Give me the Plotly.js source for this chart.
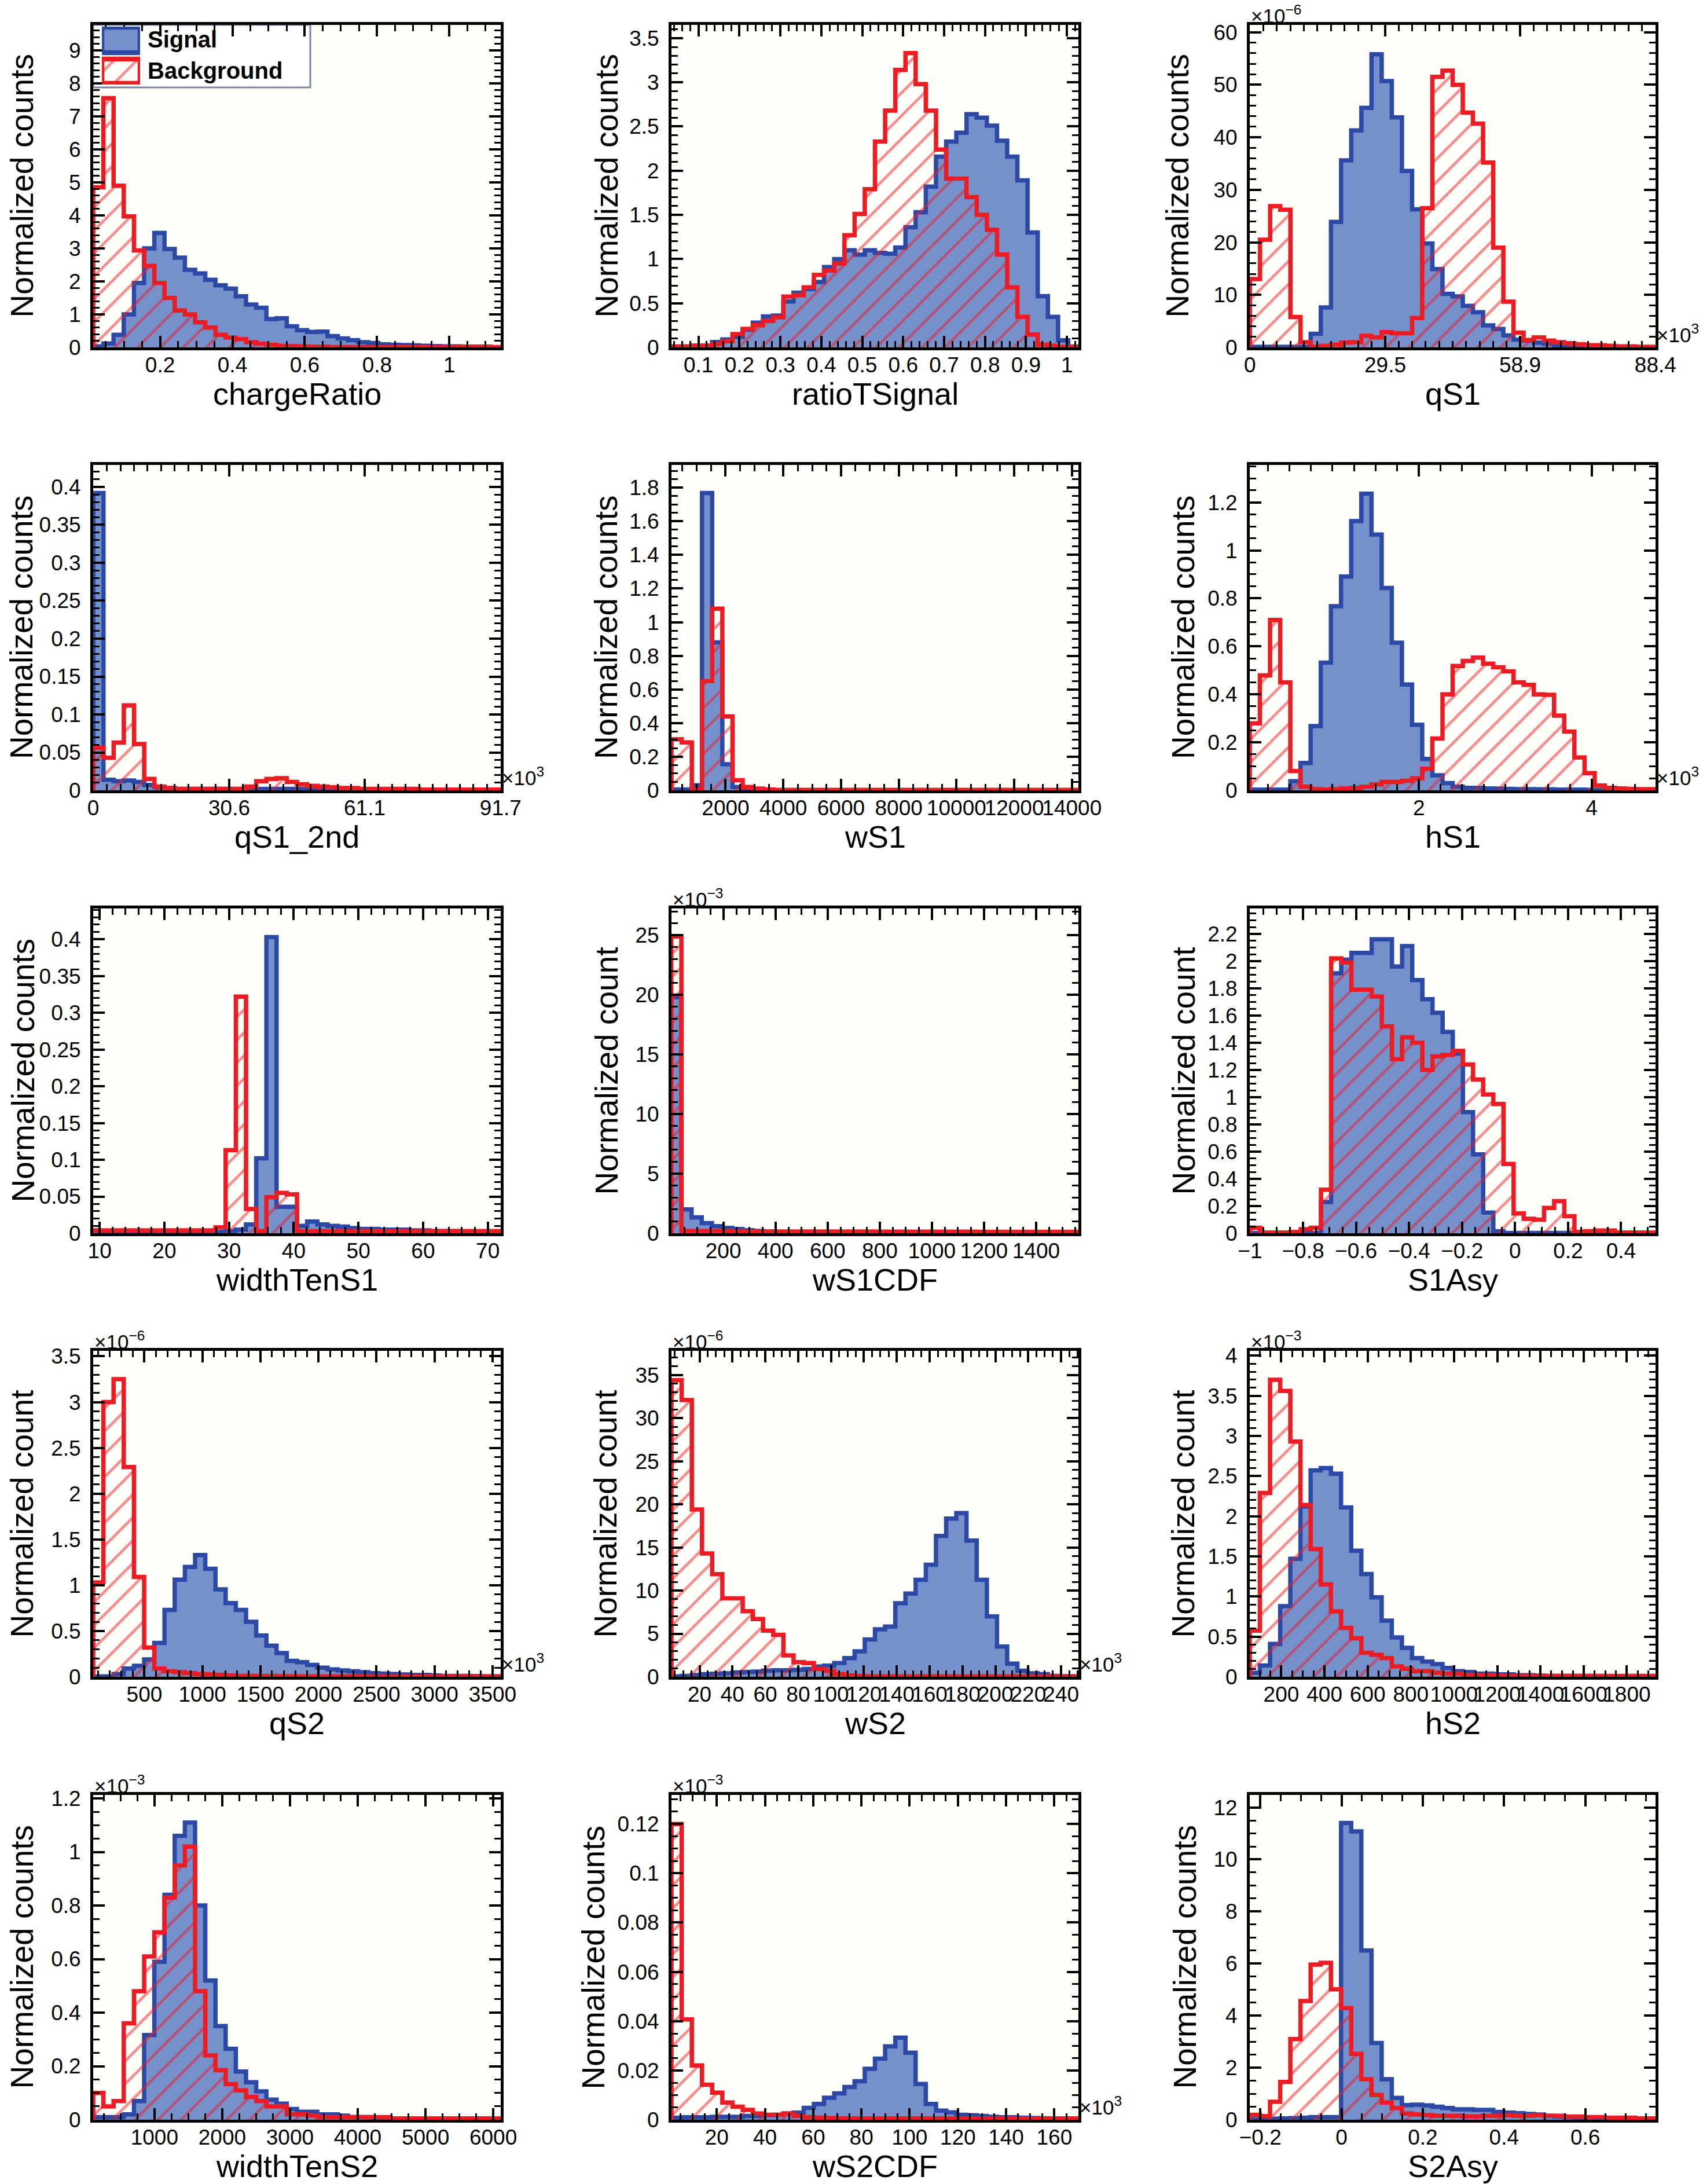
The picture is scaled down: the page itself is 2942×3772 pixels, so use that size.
<!DOCTYPE html>
<html><head><meta charset="utf-8">
<script src="https://cdn.plot.ly/plotly-3.0.1.min.js"></script>
<style>html,body{margin:0;padding:0;background:#fff}#chart{width:2942px;height:3772px}</style>
</head><body><div id="chart"></div>
<script>
// ---------------- DATA (bin range [lo, hi], 40 equal bins) ----------------
const chargeRatioBins = [0.015, 1.142];
const chargeRatioSignal = [0.03,0.12,0.38,1.0,1.95,3.0,3.47,2.98,2.72,2.35, 2.24,2.05,1.88,1.78,1.55,1.3,1.2,0.86,0.88,0.64, 0.52,0.47,0.48,0.34,0.27,0.22,0.16,0.13,0.09,0.08, 0.07,0.06,0.05,0.04,0.03,0.03,0.02,0.02,0.02,0.01];
const chargeRatioBackground = [4.85,7.55,4.9,3.97,2.94,2.47,1.95,1.5,1.12,1.0, 0.76,0.6,0.38,0.3,0.25,0.16,0.11,0.08,0.05,0.04, 0.03,0.02,0.02,0.01,0.01,0.01,0.01,0.01,0.01,0.005, 0.005,0.005,0.005,0.005,0.005,0.005,0.005,0.005,0.005,0.005];

const ratioTSignalBins = [0.034, 1.028];
const ratioTSignalSignal = [0.01,0.01,0.02,0.02,0.06,0.09,0.12,0.2,0.28,0.35, 0.36,0.52,0.62,0.66,0.74,0.91,1.0,1.1,1.05,1.1, 1.07,1.06,1.13,1.36,1.53,1.82,2.16,2.33,2.43,2.64, 2.6,2.51,2.34,2.16,1.89,1.3,0.58,0.345,0.08,0.01];
const ratioTSignalBackground = [0.01,0.01,0.02,0.02,0.04,0.07,0.15,0.21,0.25,0.3, 0.34,0.575,0.59,0.68,0.82,0.87,0.95,1.27,1.51,1.79, 2.33,2.68,3.14,3.33,2.98,2.68,2.24,1.91,1.91,1.7, 1.5,1.33,1.05,0.68,0.345,0.145,0.03,0.02,0.005,0.005];

const qS1Bins = [0, 88.4];
const qS1Ticks = [0, 29.5, 58.9, 88.4];
const qS1Signal = [0.1,0.1,0.1,0.1,0.1,0.1,2.6,7.6,23.9,35.6, 41.3,45.6,55.8,50.7,43.8,33.6,26.3,19.8,14.9,10.2, 9.7,7.9,6.7,4.2,3.5,2.3,1.5,1.3,0.9,0.7, 0.4,0.3,0.2,0.1,0.1,0.1,0.05,0.05,0.05,0.05];
const qS1Background = [13.0,20.5,26.9,26.2,5.8,1.0,0.1,0.3,0.5,0.9, 1.0,2.2,1.9,2.9,2.7,2.7,5.6,26.5,51.5,52.7, 50.0,44.7,42.6,35.2,19.0,8.7,2.8,1.4,1.9,1.3, 1.0,0.8,0.6,0.4,0.4,0.3,0.2,0.2,0.1,0.1];

const qS1_2ndBins = [0, 91.7];
const qS1_2ndTicks = [0, 30.6, 61.1, 91.7];
const qS1_2ndSignal = [0.392,0.014,0.012,0.013,0.011,0.007,0.004,0.003,0.002,0.002, 0.002,0.002,0.002,0.002,0.002,0.002,0.002,0.002,0.002,0.002, 0.002,0.002,0.001,0.001,0.001,0.001,0.001,0.001,0.001,0.001, 0.001,0.001,0.001,0.001,0.001,0.001,0.001,0.001,0.001,0.001];
const qS1_2ndBackground = [0.056,0.043,0.063,0.112,0.061,0.015,0.005,0.003,0.002,0.002, 0.002,0.002,0.002,0.002,0.002,0.005,0.012,0.015,0.016,0.011, 0.008,0.006,0.005,0.004,0.003,0.003,0.002,0.002,0.002,0.002, 0.002,0.002,0.001,0.001,0.001,0.001,0.001,0.001,0.001,0.001];

const wS1Bins = [125, 14225];
const wS1Signal = [0.005,0.005,0.03,1.768,0.88,0.155,0.02,0.005,0.003,0.002, 0.001,0.001,0.001,0.001,0.001,0.001,0.001,0.001,0.001,0.001, 0.001,0.001,0.001,0.001,0.001,0.001,0.001,0.001,0.001,0.001, 0.001,0.001,0.001,0.001,0.001,0.001,0.001,0.001,0.001,0.001];
const wS1Background = [0.304,0.285,0.005,0.65,1.08,0.44,0.06,0.02,0.01,0.005, 0.003,0.003,0.003,0.003,0.003,0.003,0.003,0.003,0.003,0.003, 0.003,0.003,0.003,0.003,0.003,0.003,0.003,0.003,0.003,0.003, 0.003,0.003,0.003,0.003,0.003,0.003,0.003,0.003,0.003,0.003];

const hS1Bins = [0.042, 4.74];
const hS1Signal = [0.003,0.003,0.003,0.003,0.038,0.114,0.268,0.532,0.767,0.891, 1.122,1.236,1.066,0.843,0.615,0.441,0.273,0.131,0.063,0.03, 0.015,0.01,0.01,0.008,0.007,0.006,0.005,0.005,0.004,0.004, 0.003,0.003,0.003,0.002,0.002,0.002,0.002,0.002,0.002,0.002];
const hS1Background = [0.279,0.479,0.71,0.45,0.08,0.015,0.005,0.003,0.005,0.008, 0.01,0.015,0.025,0.035,0.035,0.04,0.05,0.09,0.216,0.4, 0.518,0.539,0.553,0.528,0.513,0.496,0.45,0.44,0.4,0.398, 0.311,0.245,0.137,0.072,0.02,0.01,0.008,0.006,0.005,0.005];

const widthTenS1Bins = [9, 72];
const widthTenS1Signal = [0.002,0.002,0.002,0.002,0.002,0.002,0.002,0.002,0.002,0.002, 0.002,0.002,0.002,0.003,0.005,0.012,0.102,0.403,0.036,0.036, 0.01,0.016,0.012,0.01,0.009,0.007,0.006,0.006,0.005,0.005, 0.005,0.004,0.004,0.003,0.003,0.003,0.002,0.002,0.002,0.002];
const widthTenS1Background = [0.004,0.004,0.004,0.004,0.004,0.004,0.004,0.004,0.004,0.004, 0.004,0.004,0.008,0.113,0.322,0.033,0.003,0.049,0.055,0.053, 0.003,0.003,0.003,0.003,0.003,0.003,0.003,0.003,0.003,0.003, 0.003,0.003,0.003,0.003,0.003,0.003,0.003,0.003,0.003,0.003];

const wS1CDFBins = [0, 1562];
const wS1CDFSignal = [19.8,2.0,1.33,0.85,0.6,0.45,0.35,0.25,0.2,0.15, 0.12,0.1,0.08,0.07,0.06,0.05,0.05,0.04,0.04,0.03, 0.03,0.03,0.02,0.02,0.02,0.02,0.02,0.01,0.01,0.01, 0.01,0.01,0.01,0.01,0.01,0.01,0.01,0.01,0.01,0.01];
const wS1CDFBackground = [24.9,0.2,0.2,0.2,0.2,0.18,0.16,0.15,0.15,0.15, 0.15,0.15,0.14,0.14,0.14,0.14,0.14,0.14,0.14,0.14, 0.13,0.13,0.13,0.13,0.13,0.13,0.13,0.13,0.13,0.13, 0.12,0.12,0.12,0.12,0.12,0.12,0.12,0.12,0.12,0.12];

const S1AsyBins = [-1, 0.53];
const S1AsySignal = [0.002,0.002,0.002,0.002,0.002,0.002,0.002,0.23,1.91,2.01, 2.06,2.06,2.16,2.16,1.96,2.11,1.86,1.72,1.62,1.48, 1.32,0.89,0.58,0.152,0.015,0.002,0.002,0.002,0.002,0.002, 0.002,0.002,0.002,0.002,0.002,0.002,0.002,0.002,0.002,0.002];
const S1AsyBackground = [0.04,0.005,0.005,0.005,0.01,0.03,0.04,0.32,2.02,1.99, 1.79,1.79,1.74,1.52,1.28,1.44,1.40,1.2,1.3,1.31, 1.34,1.24,1.13,1.02,0.95,0.51,0.146,0.106,0.1,0.186, 0.236,0.126,0.01,0.015,0.02,0.02,0.005,0.005,0.005,0.005];

const qS2Bins = [59, 3570];
const qS2Signal = [0.005,0.005,0.03,0.09,0.12,0.19,0.37,0.73,1.06,1.2, 1.33,1.18,0.955,0.805,0.73,0.6,0.45,0.34,0.26,0.174, 0.16,0.13,0.1,0.08,0.07,0.06,0.05,0.04,0.035,0.03, 0.025,0.02,0.02,0.015,0.01,0.01,0.01,0.008,0.005,0.005];
const qS2Background = [1.03,3.0,3.25,2.29,1.09,0.32,0.09,0.06,0.05,0.04, 0.03,0.025,0.02,0.015,0.01,0.01,0.008,0.008,0.006,0.006, 0.005,0.005,0.005,0.005,0.005,0.005,0.005,0.005,0.005,0.005, 0.005,0.005,0.005,0.005,0.005,0.005,0.005,0.005,0.005,0.005];

const wS2Bins = [2.9, 250.5];
const wS2Signal = [0.05,0.1,0.2,0.3,0.35,0.4,0.5,0.55,0.6,0.7, 0.75,0.75,0.8,0.9,1.2,1.3,1.6,2.17,2.96,4.33, 5.5,5.83,8.53,9.65,11.24,13.0,16.34,18.34,18.98,15.8, 11.24,7.0,3.5,1.53,0.7,0.4,0.3,0.1,0.05,0.05];
const wS2Background = [34.4,32.1,19.4,14.3,11.9,9.1,9.1,7.6,6.7,5.35, 4.87,2.48,1.69,1.6,0.9,0.7,0.3,0.15,0.1,0.05, 0.05,0.05,0.05,0.05,0.05,0.05,0.05,0.05,0.05,0.05, 0.05,0.05,0.05,0.05,0.05,0.05,0.05,0.05,0.05,0.05];

const hS2Bins = [54, 1933];
const hS2Signal = [0.05,0.14,0.41,0.88,1.47,2.12,2.57,2.6,2.53,2.11, 1.57,1.28,0.99,0.70,0.49,0.36,0.233,0.19,0.158,0.11, 0.07,0.06,0.04,0.04,0.03,0.03,0.02,0.02,0.015,0.01, 0.01,0.01,0.01,0.01,0.008,0.008,0.005,0.005,0.005,0.005];
const hS2Background = [0.575,2.29,3.7,3.56,2.93,2.14,1.59,1.15,0.815,0.61, 0.48,0.3,0.274,0.233,0.13,0.1,0.07,0.07,0.05,0.04, 0.04,0.02,0.02,0.02,0.015,0.01,0.01,0.01,0.01,0.01, 0.01,0.01,0.01,0.01,0.01,0.01,0.01,0.01,0.01,0.01];

const widthTenS2Bins = [96, 6110];
const widthTenS2Signal = [0.01,0.01,0.01,0.02,0.07,0.316,0.59,0.84,1.06,1.11, 0.8,0.52,0.35,0.265,0.18,0.14,0.106,0.075,0.06,0.04, 0.03,0.03,0.02,0.02,0.015,0.01,0.01,0.008,0.006,0.005, 0.005,0.005,0.004,0.004,0.003,0.003,0.003,0.003,0.003,0.003];
const widthTenS2Background = [0.1,0.05,0.07,0.36,0.48,0.61,0.70,0.83,0.95,1.02, 0.48,0.24,0.185,0.133,0.11,0.085,0.07,0.05,0.05,0.02, 0.02,0.015,0.01,0.01,0.01,0.01,0.01,0.01,0.01,0.005, 0.005,0.005,0.005,0.005,0.005,0.005,0.005,0.005,0.005,0.005];

const wS2CDFBins = [1.2, 170];
const wS2CDFSignal = [0.0008,0.001,0.001,0.001,0.0012,0.0012,0.0012,0.0015,0.0015,0.0018, 0.002,0.0025,0.0029,0.0048,0.0064,0.0089,0.0107,0.0133,0.0156,0.0207, 0.0248,0.0298,0.0333,0.0272,0.0145,0.0064,0.0037,0.003,0.002,0.0018, 0.0015,0.0012,0.001,0.001,0.0008,0.0007,0.0006,0.0005,0.0005,0.0005];
const wS2CDFBackground = [0.12,0.0407,0.022,0.0142,0.011,0.007,0.0053,0.004,0.0025,0.002, 0.002,0.0025,0.0015,0.001,0.0008,0.0007,0.0006,0.0005,0.0005,0.0005, 0.0005,0.0005,0.0005,0.0005,0.0005,0.0005,0.0005,0.0005,0.0005,0.0005, 0.0005,0.0005,0.0005,0.0005,0.0005,0.0005,0.0005,0.0005,0.0005,0.0005];

const S2AsyBins = [-0.226, 0.773];
const S2AsySignal = [0.02,0.03,0.04,0.05,0.06,0.08,0.1,0.1,0.1,11.4, 11.08,6.5,2.95,1.56,0.84,0.56,0.58,0.55,0.5,0.45, 0.4,0.4,0.38,0.38,0.3,0.27,0.25,0.22,0.2,0.15, 0.12,0.1,0.08,0.05,0.03,0.03,0.03,0.03,0.03,0.03];
const S2AsyBackground = [0.19,0.14,0.69,1.45,3.1,4.56,5.96,6.03,5.01,4.29, 2.53,1.56,0.95,0.66,0.45,0.24,0.2,0.18,0.15,0.15, 0.15,0.13,0.13,0.15,0.15,0.17,0.15,0.15,0.17,0.15, 0.15,0.12,0.12,0.1,0.1,0.08,0.08,0.08,0.05,0.05];

const xTitles = ['chargeRatio','ratioTSignal','qS1','qS1_2nd','wS1','hS1','widthTenS1','wS1CDF','S1Asy','qS2','wS2','hS2','widthTenS2','wS2CDF','S2Asy'];
const yTitles = ['Normalized counts','Normalized counts','Normalized counts','Normalized counts','Normalized counts','Normalized counts','Normalized counts','Normalized count','Normalized count','Normalized count','Normalized count','Normalized count','Normalized counts','Normalized counts','Normalized counts'];
const yExponents = ['', '', '\u22126', '', '', '', '', '\u22123', '', '\u22126', '\u22126', '\u22123', '\u22123', '\u22123', ''];
const xExponents = ['', '', '3', '3', '', '3', '', '', '', '3', '3', '', '', '3', ''];
const legendNames = ['Signal', 'Background'];

const signals = [chargeRatioSignal, ratioTSignalSignal, qS1Signal, qS1_2ndSignal, wS1Signal, hS1Signal, widthTenS1Signal, wS1CDFSignal, S1AsySignal, qS2Signal, wS2Signal, hS2Signal, widthTenS2Signal, wS2CDFSignal, S2AsySignal];
const backgrounds = [chargeRatioBackground, ratioTSignalBackground, qS1Background, qS1_2ndBackground, wS1Background, hS1Background, widthTenS1Background, wS1CDFBackground, S1AsyBackground, qS2Background, wS2Background, hS2Background, widthTenS2Background, wS2CDFBackground, S2AsyBackground];
const binRanges = [chargeRatioBins, ratioTSignalBins, qS1Bins, qS1_2ndBins, wS1Bins, hS1Bins, widthTenS1Bins, wS1CDFBins, S1AsyBins, qS2Bins, wS2Bins, hS2Bins, widthTenS2Bins, wS2CDFBins, S2AsyBins];

// ---------------- LAYOUT / STYLE ----------------
const W = 2942, H = 3772;
const FONT = 'Liberation Sans, Arial, Helvetica, sans-serif';
const BLUE_FILL = '#7690cc', BLUE_LINE = '#2c49a6', RED = '#ec1c24', FRAME_BG = '#fffffa';
const LINE_W = 7.5;
const TICK_FONT = 37, TITLE_FONT = 55;
const HATCH = {shape: '/', fgcolor: RED, bgcolor: 'rgba(0,0,0,0)', size: 28, solidity: 0.17, fillmode: 'overlay'};
const colPx = [[161, 865], [1160, 1863], [2159, 2860]];
const rowPx = [[43, 600], [803, 1365], [1569, 2130], [2333, 2896], [3100, 3661]];
const yTitleX = [37,1047,2033, 37,1047,2044, 39,1047,2044, 37,1045,2043, 37,1024,2046];
const X_TITLE_OFFSET = 80;
const axSpec = [
  {xr:[0.015,1.142], xd:0.2, xm:0.05, ymax:9.77, yd:1, ym:0.2},
  {xr:[0.034,1.028], xd:0.1, xm:0.02, ymax:3.65, yd:0.5, ym:0.1},
  {xr:[-0.02,88.42], xt:qS1Ticks, xm:88.4/30, ymax:61.4, yd:10, ym:2},
  {xr:[-0.02,91.72], xt:qS1_2ndTicks, xm:91.7/30, ymax:0.429, yd:0.05, ym:0.01},
  {xr:[125,14225], xd:2000, xm:500, xf:'d', ymax:1.935, yd:0.2, ym:0.05},
  {xr:[0.042,4.74], xd:2, xm:0.25, ymax:1.356, yd:0.2, ym:0.05},
  {xr:[9,72], xd:10, xm:2, ymax:0.442, yd:0.05, ym:0.01},
  {xr:[1,1562], xd:200, xm:50, xf:'d', ymax:27.25, yd:5, ym:1},
  {xr:[-1.001,0.53], xd:0.2, xm:0.05, ymax:2.387, yd:0.2, ym:0.05},
  {xr:[59,3570], xd:500, xm:100, xf:'d', ymax:3.56, yd:0.5, ym:0.1},
  {xr:[2.9,250.5], xd:20, xm:5, ymax:37.8, yd:5, ym:1},
  {xr:[54,1933], xd:200, xm:50, xf:'d', ymax:4.06, yd:0.5, ym:0.1},
  {xr:[96,6110], xd:1000, xm:250, xf:'d', ymax:1.213, yd:0.2, ym:0.05},
  {xr:[1.2,170], xd:20, xm:5, ymax:0.1318, yd:0.02, ym:0.005},
  {xr:[-0.226,0.773], xd:0.2, xm:0.05, ymax:12.48, yd:2, ym:0.5}
];

function binEdges(range, n) {
  const lo = range[0], hi = range[1], w = (hi - lo) / n;
  const e = [];
  for (let i = 0; i <= n; i++) e.push(lo + i * w);
  return e;
}
function stepXY(range, vals) {
  const n = vals.length, e = binEdges(range, n);
  const x = [e[0]], y = [0];
  for (let i = 0; i < n; i++) { x.push(e[i]); y.push(vals[i]); }
  x.push(e[n]); y.push(vals[n - 1]);
  x.push(e[n]); y.push(0);
  return {x, y};
}

const traces = [], annotations = [], shapes = [];
const layout = {
  width: W, height: H,
  margin: {l: 0, r: 0, t: 0, b: 0},
  paper_bgcolor: '#ffffff', plot_bgcolor: FRAME_BG,
  font: {family: FONT, color: '#000'},
  showlegend: false,
  annotations: annotations, shapes: shapes
};

for (let p = 0; p < 15; p++) {
  const s = axSpec[p];
  const r = Math.floor(p / 3), c = p % 3;
  const n = p === 0 ? '' : String(p + 1);
  const xa = 'x' + n, ya = 'y' + n;
  const cp = colPx[c], rp = rowPx[r];
  const common = {
    showline: true, linecolor: '#000', linewidth: 5, mirror: 'ticks',
    ticks: 'inside', ticklen: 20, tickwidth: 4, tickcolor: '#000',
    showgrid: false, zeroline: false, fixedrange: true,
    exponentformat: 'none',
    tickfont: {family: FONT, size: TICK_FONT, color: '#000'}, tickangle: 0
  };
  const xaxis = Object.assign({}, common, {
    domain: [cp[0] / W, cp[1] / W], anchor: ya, range: s.xr,
    ticklabelstandoff: -6,
    minor: {ticks: 'inside', ticklen: 11, tickwidth: 3, tickcolor: '#000', showgrid: false, tickmode: 'linear', tick0: 0, dtick: s.xm}
  });
  if (s.xt) { xaxis.tickmode = 'array'; xaxis.tickvals = s.xt; xaxis.ticktext = s.xt.map(String); }
  else { xaxis.tickmode = 'linear'; xaxis.tick0 = 0; xaxis.dtick = s.xd; }
  if (s.xf) xaxis.tickformat = s.xf;
  const yaxis = Object.assign({}, common, {
    domain: [1 - rp[1] / H, 1 - rp[0] / H], anchor: xa, range: [0, s.ymax],
    tickmode: 'linear', tick0: 0, dtick: s.yd, ticklabelstandoff: 9,
    minor: {ticks: 'inside', ticklen: 11, tickwidth: 3, tickcolor: '#000', showgrid: false, tickmode: 'linear', tick0: 0, dtick: s.ym}
  });
  layout['xaxis' + n] = xaxis;
  layout['yaxis' + n] = yaxis;

  const sg = stepXY(binRanges[p], signals[p]);
  traces.push({
    type: 'scatter', mode: 'lines', x: sg.x, y: sg.y, xaxis: xa, yaxis: ya,
    name: legendNames[0], showlegend: false,
    line: {shape: 'hv', color: BLUE_LINE, width: LINE_W},
    fill: 'tozeroy', fillcolor: BLUE_FILL, hoverinfo: 'skip'
  });
  const bg = stepXY(binRanges[p], backgrounds[p]);
  traces.push({
    type: 'scatter', mode: 'lines', x: bg.x, y: bg.y, xaxis: xa, yaxis: ya,
    name: legendNames[1], showlegend: false,
    line: {shape: 'hv', color: RED, width: LINE_W},
    fill: 'tozeroy', fillcolor: 'rgba(0,0,0,0)', fillpattern: HATCH,
    hoverinfo: 'skip'
  });

  annotations.push({
    xref: 'paper', yref: 'paper', x: yTitleX[p] / W, y: 1 - (rp[0] + rp[1]) / 2 / H,
    xanchor: 'center', yanchor: 'middle', textangle: -90, showarrow: false,
    text: yTitles[p], font: {family: FONT, size: TITLE_FONT, color: '#000'}
  });
  annotations.push({
    xref: 'paper', yref: 'paper', x: (cp[0] + cp[1]) / 2 / W, y: 1 - (rp[1] + X_TITLE_OFFSET) / H,
    xanchor: 'center', yanchor: 'middle', showarrow: false,
    text: xTitles[p], font: {family: FONT, size: 54, color: '#000'}
  });
  if (yExponents[p]) {
    annotations.push({
      xref: 'paper', yref: 'paper', x: cp[0] / W, y: 1 - (rp[0] + 6) / H,
      xanchor: 'left', yanchor: 'bottom', showarrow: false,
      text: '\u00d710<sup>' + yExponents[p] + '</sup>', font: {family: FONT, size: 35, color: '#000'}
    });
  }
  if (xExponents[p]) {
    annotations.push({
      xref: 'paper', yref: 'paper', x: cp[1] / W, y: 1 - rp[1] / H,
      xanchor: 'left', yanchor: 'bottom', showarrow: false,
      text: '\u00d710<sup>' + xExponents[p] + '</sup>', font: {family: FONT, size: 35, color: '#000'}
    });
  }
}

// ---------------- LEGEND (panel 1) ----------------
shapes.push({
  type: 'rect', xref: 'x domain', yref: 'y domain', layer: 'below',
  x0: 0, x1: (536 - 161) / (865 - 161), y0: 1 - (151 - 43) / (600 - 43), y1: 1,
  line: {color: '#7787a6', width: 3}, fillcolor: '#ffffff'
});
layout.xaxis16 = {domain: [176 / W, 242 / W], anchor: 'y16', range: [0, 1], visible: false, fixedrange: true};
layout.yaxis16 = {domain: [1 - 146 / H, 1 - 46 / H], anchor: 'x16', range: [0, 100], visible: false, fixedrange: true};
const swatchRows = [[55, 99], [2, 44]];
traces.push({
  type: 'scatter', mode: 'lines', xaxis: 'x16', yaxis: 'y16', showlegend: false, hoverinfo: 'skip',
  x: [0, 0, 1, 1, 0], y: [swatchRows[0][0], swatchRows[0][1], swatchRows[0][1], swatchRows[0][0], swatchRows[0][0]],
  fill: 'toself', fillcolor: BLUE_FILL, line: {color: BLUE_LINE, width: LINE_W + 1}
});
traces.push({
  type: 'scatter', mode: 'lines', xaxis: 'x16', yaxis: 'y16', showlegend: false, hoverinfo: 'skip',
  x: [0, 0, 1, 1, 0], y: [swatchRows[1][0], swatchRows[1][1], swatchRows[1][1], swatchRows[1][0], swatchRows[1][0]],
  fill: 'toself', fillcolor: 'rgba(0,0,0,0)', fillpattern: HATCH, line: {color: RED, width: LINE_W + 1}
});
const legendTextY = [68, 122];
legendNames.forEach((nm, i) => {
  annotations.push({
    xref: 'paper', yref: 'paper', x: 253 / W, y: 1 - legendTextY[i] / H,
    xanchor: 'left', yanchor: 'middle', showarrow: false,
    text: '<b>' + nm + '</b>', font: {family: FONT, size: 40, color: '#000'}
  });
});

Plotly.newPlot('chart', traces, layout, {staticPlot: true, displayModeBar: false});
</script>
</body></html>
